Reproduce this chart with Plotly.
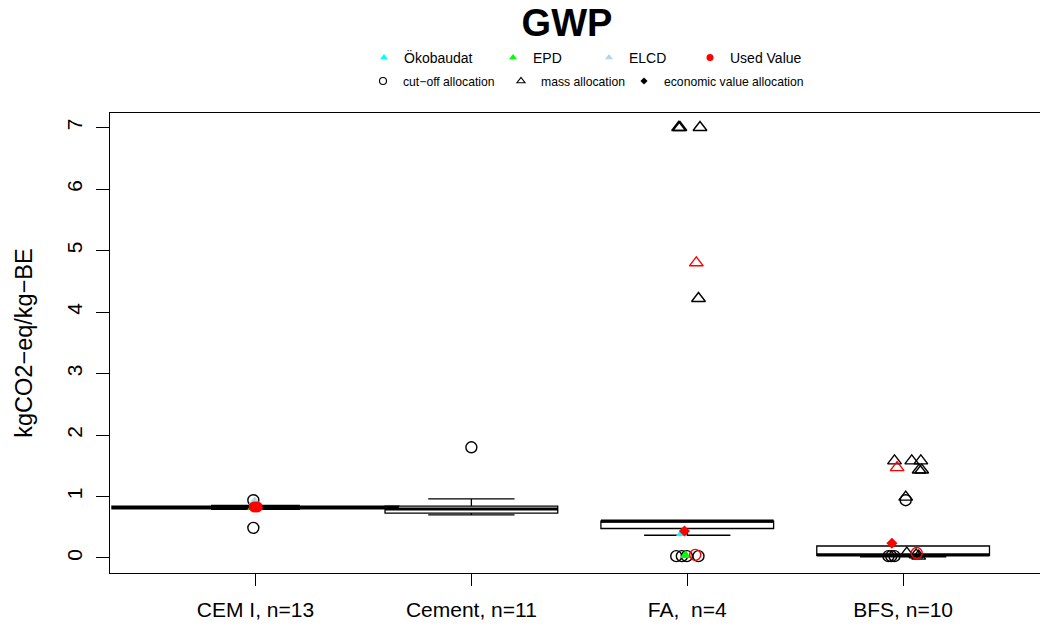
import plotly.graph_objects as go

# ---- data -------------------------------------------------------------
categories = ["CEM I, n=13", "Cement, n=11", "FA,\u00a0 n=4", "BFS, n=10"]
positions = [1, 2, 3, 4]

# five-number summaries of the boxes
box_lowerfence = [0.79, 0.70, 0.37, 0.02]
box_q1 = [0.80, 0.73, 0.48, 0.045]
box_median = [0.82, 0.795, 0.60, 0.05]
box_q3 = [0.845, 0.845, 0.60, 0.195]
box_upperfence = [0.855, 0.96, 0.60, 0.195]

# individual data sets plotted over the boxes
pt_group = [0, 0, 0, 0, 0, 0, 0, 0,
            1,
            2, 2, 2, 2, 2, 2, 2, 2, 2, 2, 2, 2, 2,
            3, 3, 3, 3, 3, 3, 3, 3, 3, 3, 3, 3, 3, 3, 3, 3]
pt_jitter = [-0.010, -0.010, -0.004, -0.012, 0.006, 0.000, -0.006, 0.008,
             0.000,
             -0.040, -0.034, 0.059, 0.052, -0.051, -0.025, -0.002, 0.052,
             -0.026, -0.009, 0.042, -0.013, 0.037,
             -0.040, 0.040, 0.082, 0.074, 0.086, 0.012, 0.012, -0.068, -0.055,
             -0.040, 0.017, 0.060, 0.072, -0.028, -0.052, 0.063]
pt_value = [0.94, 0.49, 0.92, 0.82, 0.83, 0.87, 0.83, 0.83,
            1.80,
            7.00, 7.00, 7.00, 4.22, 0.03, 0.03, 0.03, 0.03,
            0.40, 0.04, 4.80, 0.44, 0.05,
            1.58, 1.58, 1.58, 1.43, 1.43, 0.99, 0.94, 0.03, 0.03,
            0.03, 0.08, 0.05, 0.03, 1.47, 0.24, 0.08]
pt_alloc = ["cut-off", "cut-off", "none", "none", "none", "none", "none", "none",
            "cut-off",
            "mass", "mass", "mass", "mass", "cut-off", "cut-off", "cut-off", "cut-off",
            "none", "none", "mass", "economic", "cut-off",
            "mass", "mass", "mass", "mass", "mass", "mass", "cut-off", "cut-off", "cut-off",
            "cut-off", "mass", "mass", "mass", "mass", "economic", "cut-off"]
pt_source = ["other", "other", "ELCD", "EPD", "EPD", "EPD", "used", "used",
             "other",
             "other", "other", "other", "other", "other", "other", "other", "other",
             "Ökobaudat", "EPD", "used", "used", "used",
             "other", "other", "other", "other", "other", "other", "other", "other", "other",
             "other", "other", "other", "other", "used", "used", "used"]

# ---- styles -----------------------------------------------------------
FONT = "Liberation Sans, Arial, Helvetica, sans-serif"
source_colors = {"other": "black", "Ökobaudat": "#00FFFF", "EPD": "#00FF00",
                 "ELCD": "#ADD8E6", "used": "#FF0000"}
alloc_symbols = {"cut-off": "circle-open", "mass": "triangle-up-open",
                 "economic": "diamond"}
symbol_sizes = {"circle-open": 11, "triangle-up-open": 12, "diamond": 8.5,
                "triangle-up": 10, "circle": 11}
box_widths = [1.33, 0.8, 0.8, 0.8]
whisker_widths = [0.31, 0.5, 0.5, 0.5]


def marker_style(alloc, source):
    color = source_colors[source]
    if source in ("Ökobaudat", "EPD", "ELCD"):
        return "triangle-up", color
    if alloc == "none":
        return "circle", color
    return alloc_symbols[alloc], color


fig = go.Figure()

# boxes
for i, pos in enumerate(positions):
    fig.add_trace(go.Box(
        x=[pos], q1=[box_q1[i]], median=[box_median[i]], q3=[box_q3[i]],
        lowerfence=[box_lowerfence[i]], upperfence=[box_upperfence[i]],
        width=box_widths[i], whiskerwidth=whisker_widths[i],
        fillcolor="white", line=dict(color="black", width=1.3),
        boxpoints=False, showlegend=False, hoverinfo="skip"))
    # heavier median bar
    fig.add_trace(go.Scatter(
        x=[pos - box_widths[i] / 2, pos + box_widths[i] / 2],
        y=[box_median[i], box_median[i]], mode="lines",
        line=dict(color="black", width=3), showlegend=False, hoverinfo="skip"))

# individual points: black first, then sources, red used values on top
draw_order = ["other", "Ökobaudat", "EPD", "ELCD", "used"]
for src in draw_order:
    groups = {}
    for g, j, v, a, s in zip(pt_group, pt_jitter, pt_value, pt_alloc, pt_source):
        if s != src:
            continue
        sym, col = marker_style(a, s)
        groups.setdefault((sym, col), ([], []))
        groups[(sym, col)][0].append(positions[g] + j)
        groups[(sym, col)][1].append(v)
    for (sym, col), (xs, ys) in groups.items():
        filled = not sym.endswith("open")
        fig.add_trace(go.Scatter(
            x=xs, y=ys, mode="markers", showlegend=False, hoverinfo="skip",
            marker=dict(symbol=sym, size=symbol_sizes[sym], color=col,
                        line=dict(color=col, width=1.4 if not filled else 0))))

# ---- legend keys ------------------------------------------------------
legend_rows = [
    # (label, symbol, colour, text start x, centre y, font size)
    ("Ökobaudat", "triangle-up", source_colors["Ökobaudat"], 404, 58, 14),
    ("EPD", "triangle-up", source_colors["EPD"], 533, 58, 14),
    ("ELCD", "triangle-up", source_colors["ELCD"], 629, 58, 14),
    ("Used Value", "circle", source_colors["used"], 730, 58, 14),
    ("cut\u2212off allocation", "circle-open", "black", 403, 81, 12.2),
    ("mass allocation", "triangle-up-open", "black", 541, 81, 12.2),
    ("economic value allocation", "diamond", "black", 664, 81, 12.2),
]
W, H = 1040, 628
legend_layout = {}
for k, (label, sym, col, tx, ty, fs) in enumerate(legend_rows):
    key = "legend" if k == 0 else f"legend{k + 1}"
    fig.add_trace(go.Scatter(
        x=[None], y=[None], mode="markers", name=label, legend=key,
        marker=dict(symbol=sym, size=7 if sym != "diamond" else 5.5, color=col,
                    line=dict(color=col, width=1.1 if sym.endswith("open") else 0))))
    legend_layout[key] = dict(
        x=(tx - 40) / W, y=1 - ty / H, xref="container", yref="container",
        xanchor="left", yanchor="middle", orientation="h",
        bgcolor="rgba(0,0,0,0)", borderwidth=0,
        font=dict(family=FONT, size=fs, color="black"),
        itemclick=False, itemdoubleclick=False)

fig.update_layout(
    width=W, height=H,
    margin=dict(l=110, r=0, t=113, b=55),
    paper_bgcolor="white", plot_bgcolor="white",
    font=dict(family=FONT, color="black"),
    title=dict(text="GWP", x=567 / W, xanchor="center", y=1 - 23 / H,
               yanchor="middle", xref="container", yref="container",
               font=dict(family=FONT, size=38, weight="bold", color="black")),
    xaxis=dict(range=[0.326, 4.634], tickmode="array", tickvals=positions,
               ticktext=categories, ticks="outside", ticklen=12,
               tickcolor="black", tickwidth=1.2, showgrid=False, zeroline=False,
               showline=True, mirror=True, linecolor="black", linewidth=1.3,
               ticklabelstandoff=6,
               tickfont=dict(family=FONT, size=21, color="black")),
    yaxis=dict(range=[-0.244, 7.236], tickmode="array",
               tickvals=[0, 1, 2, 3, 4, 5, 6, 7],
               ticktext=["0", "1", "2", "3", "4", "5", "6", "7"],
               tickangle=-90, ticks="outside", ticklen=13, tickcolor="black",
               tickwidth=1.2, showgrid=False, zeroline=False, showline=True,
               mirror=False, linecolor="black", linewidth=1.3,
               ticklabelstandoff=5,
               tickfont=dict(family=FONT, size=21, color="black"),
               title=dict(text="kgCO2\u2212eq/kg\u2212BE", standoff=24,
                          font=dict(family=FONT, size=23.5, color="black"))),
    **legend_layout,
)

fig.write_html("out.html")
